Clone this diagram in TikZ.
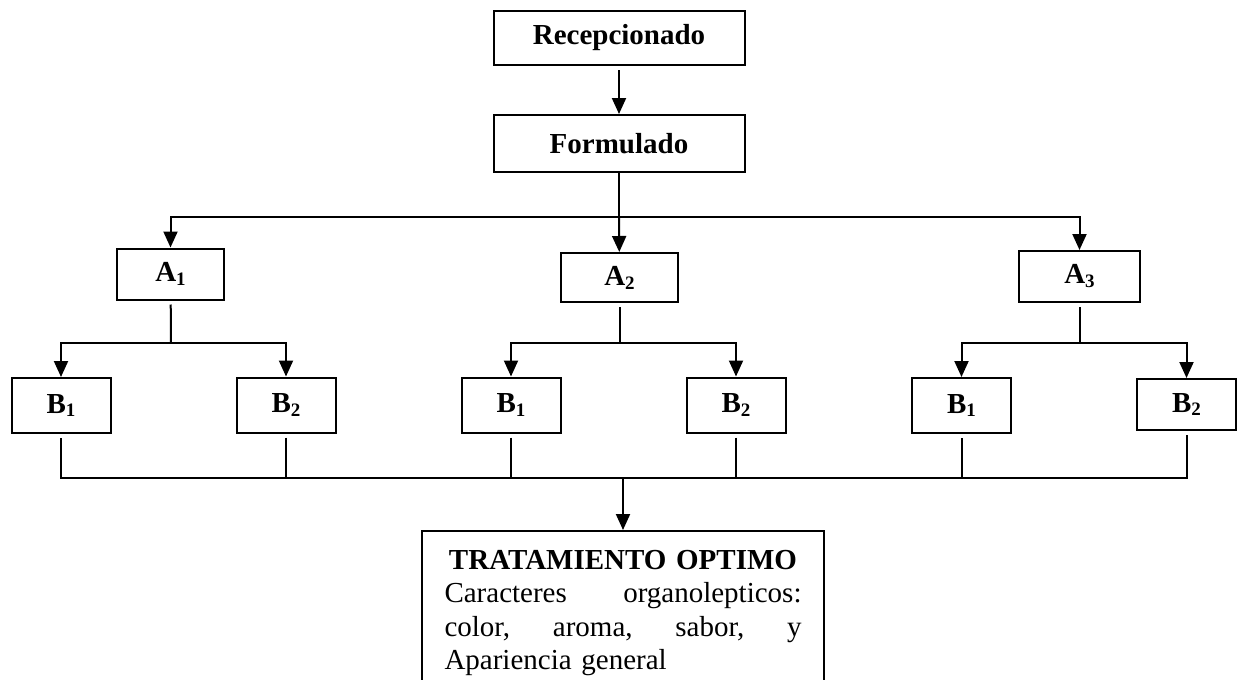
\documentclass[tikz,border=0pt]{standalone}
\usepackage{fontspec}
\setmainfont{Liberation Serif}
\usetikzlibrary{arrows.meta}
\newcommand{\lowsub}[1]{\raisebox{-.3ex}{\fontsize{9.5}{9.5}\selectfont #1}}
\tikzset{
	stage/.style={draw, line width=1pt, inner sep=0pt, font=\fontsize{14.5}{16}\selectfont\bfseries},
	abox/.style={draw, line width=1pt, inner sep=0pt, minimum height=25.5pt, font=\fontsize{14.5}{16}\selectfont\bfseries},
	bbox/.style={draw, line width=1pt, inner sep=0pt, minimum width=49.5pt, minimum height=27.5pt, font=\fontsize{14.5}{16}\selectfont\bfseries},
	ln/.style={line width=1pt},
	arr/.style={line width=1pt, -{Triangle[length=8pt,width=7pt]}}
}
\begin{document}
\begin{tikzpicture}[x=.5pt,y=-.5pt]
		\useasboundingbox (0,0) rectangle (1243,680);
		\node[stage, minimum width=125.5pt, minimum height=27pt] (rec) at (619,38) {Recepcionado};
		\node[stage, minimum width=125.5pt, minimum height=28.5pt] (form) at (619,143.5) {Formulado};
		\draw[arr, shorten <=2pt] (rec) -- (form);
		
		\node[abox, minimum width=53.5pt] (a1) at (170.5,274) {A\lowsub{1}};
		\node[abox, minimum width=58.5pt, minimum height=24.5pt] (a2) at (619.5,277.5) {A\lowsub{2}};
		\node[abox, minimum width=60.5pt] (a3) at (1079.5,276.5) {A\lowsub{3}};
		
		\coordinate (fsplit) at (619,217);
		\draw[ln] (form) -- (fsplit);
		\draw[arr] (fsplit) -| (a1); \draw[arr] (fsplit) -- (a2); \draw[arr] (fsplit) -| (a3);
		
		\node[bbox] (b1a) at (61,405.5) {B\lowsub{1}};
		\node[bbox] (b2a) at (286,405) {B\lowsub{2}};
		\node[bbox] (b1b) at (511,405) {B\lowsub{1}};
		\node[bbox] (b2b) at (736,405) {B\lowsub{2}};
		\node[bbox] (b1c) at (961.5,405.5) {B\lowsub{1}};
		\node[bbox, minimum height=25.5pt] (b2c) at (1186.5,404.5) {B\lowsub{2}};
		
		\coordinate (asplit1) at (171,343); \coordinate (asplit2) at (619.5,343); \coordinate (asplit3) at (1079.5,343);
		\draw[ln, shorten <=2pt] (a1) -- (asplit1); \draw[arr] (asplit1) -| (b1a); \draw[arr] (asplit1) -| (b2a);
		\draw[ln, shorten <=2pt] (a2) -- (asplit2); \draw[arr] (asplit2) -| (b1b); \draw[arr] (asplit2) -| (b2b);
		\draw[ln, shorten <=2pt] (a3) -- (asplit3); \draw[arr] (asplit3) -| (b1c); \draw[arr] (asplit3) -| (b2c);
		
		\node[draw, ln, anchor=north, text width=178.5pt, inner xsep=11.25pt, inner ysep=9.5pt,
			font=\fontsize{14.5}{16.75}\selectfont] (opt) at (623,530)
			{{\centering\bfseries TRATAMIENTO OPTIMO\par}
			\noindent Caracteres\hfill organolepticos:\\
			color,\hfill aroma,\hfill sabor,\hfill y\\
			Apariencia general\\[4pt]\mbox{}};
		
		\coordinate (collect) at (623,478);
		\draw[ln, shorten <=2pt] (b1a) |- (collect); \draw[ln, shorten <=2pt] (b2a) |- (collect);
		\draw[ln, shorten <=2pt] (b1b) |- (collect); \draw[ln, shorten <=2pt] (b2b) |- (collect);
		\draw[ln, shorten <=2pt] (b1c) |- (collect); \draw[ln, shorten <=2pt] (b2c) |- (collect);
		\draw[arr] (collect) -- (opt);
\end{tikzpicture}
\end{document}
